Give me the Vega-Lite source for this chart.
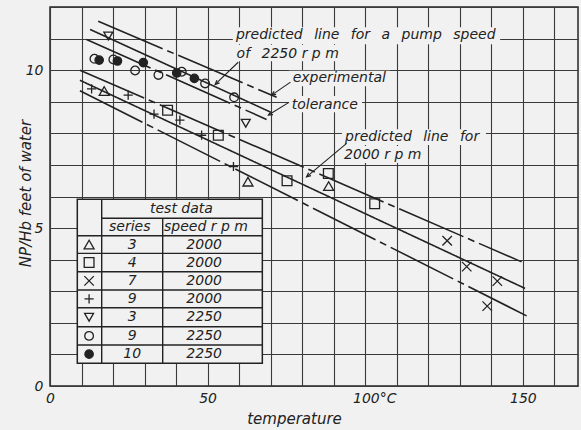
{
  "$schema": "https://vega.github.io/schema/vega-lite/v6.json",
  "width": 528,
  "height": 379,
  "autosize": {"type": "none"},
  "padding": {"left": 50, "top": 7, "right": 3, "bottom": 44},
  "background": "#f1f1f1",
  "config": {
    "view": {"stroke": "#262626", "strokeWidth": 1.5},
    "font": "DejaVu Sans",
    "axis": {
      "grid": true, "gridColor": "#3a3a3a", "gridWidth": 1.1, "gridOpacity": 1,
      "ticks": false, "domain": false,
      "labelFont": "DejaVu Sans", "labelFontStyle": "italic", "labelFontSize": 14, "labelColor": "#222",
      "titleFont": "DejaVu Sans", "titleFontStyle": "italic", "titleFontWeight": "normal", "titleFontSize": 15, "titleColor": "#222"
    }
  },
  "datasets": {
    "lines": [
      {"line": "2250 upper", "kind": "tolerance", "t": 15.3, "h": 11.55},
      {"line": "2250 upper", "kind": "tolerance", "t": 71.9, "h": 9.14},
      {"line": "2250 predicted", "kind": "predicted", "t": 12.7, "h": 11.29},
      {"line": "2250 predicted", "kind": "predicted", "t": 69.8, "h": 8.68},
      {"line": "2250 lower", "kind": "tolerance", "t": 11.6, "h": 10.97},
      {"line": "2250 lower", "kind": "tolerance", "t": 68.7, "h": 8.44},
      {"line": "2000 upper", "kind": "tolerance", "t": 9.5, "h": 10.0},
      {"line": "2000 upper", "kind": "tolerance", "t": 149.6, "h": 3.93},
      {"line": "2000 predicted", "kind": "predicted", "t": 9.5, "h": 9.68},
      {"line": "2000 predicted", "kind": "predicted", "t": 150.7, "h": 3.09},
      {"line": "2000 lower", "kind": "tolerance", "t": 9.5, "h": 9.35},
      {"line": "2000 lower", "kind": "tolerance", "t": 151.2, "h": 2.22}
    ],
    "points": [
      {"key": "3 / 2000", "t": 17.2, "h": 9.34},
      {"key": "3 / 2000", "t": 62.8, "h": 6.47},
      {"key": "3 / 2000", "t": 88.4, "h": 6.33},
      {"key": "4 / 2000", "t": 37.3, "h": 8.73},
      {"key": "4 / 2000", "t": 53.4, "h": 7.94},
      {"key": "4 / 2000", "t": 75.2, "h": 6.5},
      {"key": "4 / 2000", "t": 88.3, "h": 6.73},
      {"key": "4 / 2000", "t": 103.0, "h": 5.77},
      {"key": "7 / 2000", "t": 126.0, "h": 4.6},
      {"key": "7 / 2000", "t": 132.2, "h": 3.78},
      {"key": "7 / 2000", "t": 141.9, "h": 3.32},
      {"key": "7 / 2000", "t": 138.7, "h": 2.53},
      {"key": "9 / 2000", "t": 13.2, "h": 9.41},
      {"key": "9 / 2000", "t": 24.8, "h": 9.21},
      {"key": "9 / 2000", "t": 33.0, "h": 8.61},
      {"key": "9 / 2000", "t": 41.2, "h": 8.42},
      {"key": "9 / 2000", "t": 48.1, "h": 7.94},
      {"key": "9 / 2000", "t": 58.2, "h": 6.95},
      {"key": "3 / 2250", "t": 18.5, "h": 11.08},
      {"key": "3 / 2250", "t": 62.1, "h": 8.32},
      {"key": "9 / 2250", "t": 14.1, "h": 10.36},
      {"key": "9 / 2250", "t": 20.1, "h": 10.34},
      {"key": "9 / 2250", "t": 27.0, "h": 9.99},
      {"key": "9 / 2250", "t": 34.4, "h": 9.85},
      {"key": "9 / 2250", "t": 41.8, "h": 9.95},
      {"key": "9 / 2250", "t": 49.2, "h": 9.58},
      {"key": "9 / 2250", "t": 58.4, "h": 9.14},
      {"key": "10 / 2250", "t": 15.6, "h": 10.32},
      {"key": "10 / 2250", "t": 21.4, "h": 10.29},
      {"key": "10 / 2250", "t": 29.6, "h": 10.24},
      {"key": "10 / 2250", "t": 40.2, "h": 9.91},
      {"key": "10 / 2250", "t": 45.8, "h": 9.74}
    ],
    "tableBox": [{"t": 8.66, "h": 0.72, "t2": 67.36, "h2": 5.91}],
    "noteBoxes": [
      {"t": 58.0, "h": 10.82, "t2": 142.8, "h2": 11.36},
      {"t": 58.0, "h": 10.28, "t2": 92.4, "h2": 10.8},
      {"t": 75.8, "h": 9.49, "t2": 107.9, "h2": 9.98},
      {"t": 75.8, "h": 8.67, "t2": 99.0, "h2": 9.18},
      {"t": 92.6, "h": 7.63, "t2": 138.3, "h2": 8.13},
      {"t": 92.3, "h": 7.06, "t2": 118.7, "h2": 7.6}
    ],
    "tableRules": [
      {"t": 16.4, "h": 0.72, "t2": 16.4, "h2": 5.91},
      {"t": 35.75, "h": 0.72, "t2": 35.75, "h2": 5.31},
      {"t": 16.4, "h": 5.31, "t2": 67.36, "h2": 5.31},
      {"t": 8.66, "h": 4.756, "t2": 67.36, "h2": 4.756},
      {"t": 8.66, "h": 4.199, "t2": 67.36, "h2": 4.199},
      {"t": 8.66, "h": 3.617, "t2": 67.36, "h2": 3.617},
      {"t": 8.66, "h": 3.038, "t2": 67.36, "h2": 3.038},
      {"t": 8.66, "h": 2.478, "t2": 67.36, "h2": 2.478},
      {"t": 8.66, "h": 1.877, "t2": 67.36, "h2": 1.877},
      {"t": 8.66, "h": 1.297, "t2": 67.36, "h2": 1.297}
    ],
    "legendRows": [
      {"key": "3 / 2000", "series": "3", "speed": "2000", "h": 4.478, "ts": 12.4, "tn": 26.1, "tv": 48.9},
      {"key": "4 / 2000", "series": "4", "speed": "2000", "h": 3.908, "ts": 12.4, "tn": 26.1, "tv": 48.9},
      {"key": "7 / 2000", "series": "7", "speed": "2000", "h": 3.328, "ts": 12.4, "tn": 26.1, "tv": 48.9},
      {"key": "9 / 2000", "series": "9", "speed": "2000", "h": 2.758, "ts": 12.4, "tn": 26.1, "tv": 48.9},
      {"key": "3 / 2250", "series": "3", "speed": "2250", "h": 2.178, "ts": 12.4, "tn": 26.1, "tv": 48.9},
      {"key": "9 / 2250", "series": "9", "speed": "2250", "h": 1.587, "ts": 12.4, "tn": 26.1, "tv": 48.9},
      {"key": "10 / 2250", "series": "10", "speed": "2250", "h": 1.008, "ts": 12.4, "tn": 26.1, "tv": 48.9}
    ],
    "tableText": [
      {"label": "test data", "t": 41.7, "h": 5.61},
      {"label": "series", "t": 25.3, "h": 5.03},
      {"label": "speed r p m", "t": 49.5, "h": 5.03}
    ],
    "leaders": [
      {"t": 59.7, "h": 10.25, "t2": 52.4, "h2": 9.55},
      {"t": 76.3, "h": 9.62, "t2": 70.3, "h2": 9.21},
      {"t": 75.8, "h": 8.98, "t2": 69.3, "h2": 8.58},
      {"t": 94.1, "h": 7.68, "t2": 81.4, "h2": 6.62}
    ],
    "arrows": [
      {"t": 52.4, "h": 9.55, "dir": 46},
      {"t": 70.3, "h": 9.21, "dir": 57},
      {"t": 69.3, "h": 8.58, "dir": 60},
      {"t": 81.4, "h": 6.62, "dir": 50}
    ],
    "notes": [
      {"label": "predicted\u2002 line\u2002 for\u2002 a\u2002 pump\u2002 speed", "t": 59.0, "h": 11.11},
      {"label": "of\u2002 2250 r p m", "t": 59.2, "h": 10.52},
      {"label": "experimental", "t": 77.0, "h": 9.75},
      {"label": "tolerance", "t": 76.7, "h": 8.91},
      {"label": "predicted\u2002 line\u2002 for", "t": 93.6, "h": 7.89},
      {"label": "2000 r p m", "t": 93.3, "h": 7.31}
    ]
  },
  "encoding": {
    "x": {
      "field": "t", "type": "quantitative",
      "scale": {"domain": [0, 167.5], "nice": false, "zero": false},
      "axis": {
        "values": [0, 10, 20, 30, 40, 50, 60, 70, 80, 90, 100, 110, 120, 130, 140, 150, 160],
        "labelExpr": "datum.value == 100 ? '100°C' : (datum.value % 50 == 0 ? datum.label : '')",
        "labelOffset": {"condition": {"test": "datum.value == 100", "value": 9}, "value": 0},
        "labelPadding": 5, "labelFlush": false, "labelOverlap": false, "labelBound": false,
        "title": "temperature", "titleX": 244, "titleY": 32, "titleBaseline": "middle", "titleAlign": "center"
      }
    },
    "y": {
      "field": "h", "type": "quantitative",
      "scale": {"domain": [0, 12], "nice": false, "zero": false},
      "axis": {
        "values": [0, 1, 2, 3, 4, 5, 6, 7, 8, 9, 10, 11, 12],
        "labelExpr": "datum.value % 5 == 0 && datum.value <= 10 ? datum.label : ''",
        "labelPadding": 7, "labelFlush": false, "labelOverlap": false,
        "title": "NP/Hb  feet of water", "titleX": -25, "titleY": 186, "titleAngle": -90,
        "titleBaseline": "middle", "titleAlign": "center"
      }
    }
  },
  "layer": [
    {
      "data": {"name": "tableBox"},
      "mark": {"type": "rect", "fill": "#f1f1f1", "stroke": "#222", "strokeWidth": 1.5},
      "encoding": {"x2": {"field": "t2"}, "y2": {"field": "h2"}}
    },
    {
      "data": {"name": "noteBoxes"},
      "mark": {"type": "rect", "fill": "#f1f1f1", "strokeWidth": 0},
      "encoding": {"x2": {"field": "t2"}, "y2": {"field": "h2"}}
    },
    {
      "data": {"name": "tableRules"},
      "mark": {"type": "rule", "stroke": "#222", "strokeWidth": 1.4},
      "encoding": {"x2": {"field": "t2"}, "y2": {"field": "h2"}}
    },
    {
      "data": {"name": "tableText"},
      "mark": {"type": "text", "font": "DejaVu Sans", "fontStyle": "italic", "fontSize": 14, "color": "#222", "align": "center", "baseline": "middle"},
      "encoding": {"text": {"field": "label"}}
    },
    {
      "data": {"name": "legendRows"},
      "mark": {"type": "text", "font": "DejaVu Sans", "fontStyle": "italic", "fontSize": 14, "color": "#222", "align": "center", "baseline": "middle"},
      "encoding": {"x": {"field": "tn", "type": "quantitative"}, "text": {"field": "series"}}
    },
    {
      "data": {"name": "legendRows"},
      "mark": {"type": "text", "font": "DejaVu Sans", "fontStyle": "italic", "fontSize": 14, "color": "#222", "align": "center", "baseline": "middle"},
      "encoding": {"x": {"field": "tv", "type": "quantitative"}, "text": {"field": "speed"}}
    },
    {
      "data": {"name": "legendRows"},
      "mark": {"type": "point", "filled": false, "stroke": "#222", "strokeWidth": 1.3, "opacity": 1},
      "encoding": {
        "x": {"field": "ts", "type": "quantitative"},
        "shape": {"field": "key", "type": "nominal", "legend": null,
          "scale": {"domain": ["3 / 2000", "4 / 2000", "7 / 2000", "9 / 2000", "3 / 2250", "9 / 2250", "10 / 2250"],
            "range": ["triangle-up", "square", "M-1,-1L1,1M-1,1L1,-1", "M-1,0L1,0M0,-1L0,1", "triangle-down", "circle", "circle"]}},
        "size": {"field": "key", "type": "nominal", "legend": null,
          "scale": {"domain": ["3 / 2000", "4 / 2000", "7 / 2000", "9 / 2000", "3 / 2250", "9 / 2250", "10 / 2250"],
            "range": [100, 70, 50, 80, 110, 50, 30]}},
        "fill": {"field": "key", "type": "nominal", "legend": null,
          "scale": {"domain": ["3 / 2000", "4 / 2000", "7 / 2000", "9 / 2000", "3 / 2250", "9 / 2250", "10 / 2250"],
            "range": ["transparent", "transparent", "transparent", "transparent", "transparent", "transparent", "#222"]}}
      }
    },
    {
      "data": {"name": "lines"},
      "mark": {"type": "line", "color": "#222", "strokeWidth": 1.6},
      "encoding": {
        "detail": {"field": "line", "type": "nominal"},
        "strokeDash": {"field": "kind", "type": "nominal", "legend": null,
          "scale": {"domain": ["predicted", "tolerance"], "range": [[1, 0], [70, 5, 7, 5]]}}
      }
    },
    {
      "data": {"name": "points"},
      "mark": {"type": "point", "filled": false, "stroke": "#222", "strokeWidth": 1.3, "opacity": 1},
      "encoding": {
        "shape": {"field": "key", "type": "nominal", "legend": null},
        "size": {"field": "key", "type": "nominal", "legend": null},
        "fill": {"field": "key", "type": "nominal", "legend": null}
      }
    },
    {
      "data": {"name": "leaders"},
      "mark": {"type": "rule", "stroke": "#222", "strokeWidth": 1.1},
      "encoding": {"x2": {"field": "t2"}, "y2": {"field": "h2"}}
    },
    {
      "data": {"name": "arrows"},
      "mark": {"type": "point", "shape": "M-0.45,-1L0,0L0.45,-1", "filled": false, "stroke": "#222", "strokeWidth": 1.2, "size": 70, "opacity": 1},
      "encoding": {"angle": {"field": "dir", "type": "quantitative", "scale": null}}
    },
    {
      "data": {"name": "notes"},
      "mark": {"type": "text", "font": "DejaVu Sans", "fontStyle": "italic", "fontSize": 14, "align": "left", "baseline": "middle", "color": "#222"},
      "encoding": {"text": {"field": "label"}}
    }
  ]
}
